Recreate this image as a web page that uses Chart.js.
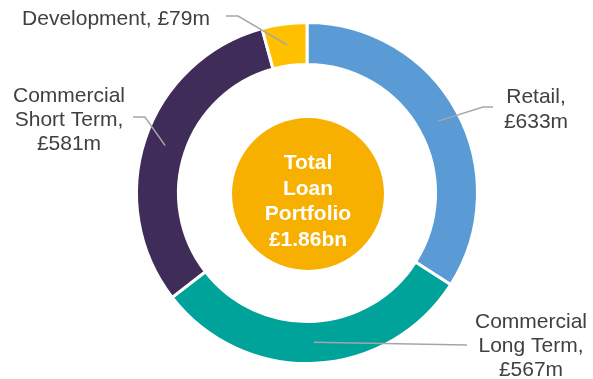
<!DOCTYPE html>
<html>
<head>
<meta charset="utf-8">
<script src="https://cdn.jsdelivr.net/npm/chart.js@4"></script>
<style>
    html, body { margin: 0; padding: 0; background: #fff; }
    #wrap { width: 593px; height: 379px; position: relative; }
</style>
</head>
<body>
<div id="wrap"><canvas id="portfolioChart"></canvas></div>
<script>
// loan book split, £m
const segments = ['Retail', 'Commercial Long Term', 'Commercial Short Term', 'Development'];
const balances = [633, 567, 581, 79];
const segmentColors = ['#5B9BD5', '#00A39A', '#402C59', '#FFC000'];

// text shown beside each slice
const sliceLabels = [
    ['Retail,', '£633m'],
    ['Commercial', 'Long Term,', '£567m'],
    ['Commercial', 'Short Term,', '£581m'],
    ['Development, £79m']
];
const centreLines = ['Total', 'Loan', 'Portfolio', '£1.86bn'];

// leader line bends and text placement, offsets from the doughnut centre
const labelLayout = [
    { path: [[176, -86], [186, -86]], textX: 229, baselines: [-90, -65] },
    { path: [[160, 152]], textX: 224, baselines: [135, 159, 183] },
    { path: [[-162, -76], [-174, -76]], textX: -238, baselines: [-91, -67, -43] },
    { path: [[-69, -177], [-81, -177]], textX: -191, baselines: [-168] }
];

const calloutPlugin = {
    id: 'callouts',
    afterDatasetsDraw(chart) {
        const ctx = chart.ctx;
        const arcs = chart.getDatasetMeta(0).data;
        if (!arcs.length) return;
        const cx = arcs[0].x;
        const cy = arcs[0].y;

        // filled disc in the hole
        ctx.save();
        ctx.beginPath();
        ctx.arc(cx + 1, cy + 1, 76, 0, Math.PI * 2);
        ctx.fillStyle = '#F8B000';
        ctx.fill();

        ctx.fillStyle = '#ffffff';
        ctx.font = 'bold 21px "Liberation Sans", Arial, sans-serif';
        ctx.textAlign = 'center';
        ctx.textBaseline = 'alphabetic';
        centreLines.forEach((line, i) => {
            ctx.fillText(line, cx + 1, cy - 24 + i * 25.5);
        });

        // leader lines from the middle of each slice
        arcs.forEach((arc, i) => {
            const p = arc.getCenterPoint();
            const lay = labelLayout[i];
            ctx.beginPath();
            ctx.moveTo(p.x, p.y);
            lay.path.forEach(pt => ctx.lineTo(cx + pt[0], cy + pt[1]));
            ctx.strokeStyle = '#A6A6A6';
            ctx.lineWidth = 1.5;
            ctx.stroke();

            ctx.fillStyle = '#404040';
            ctx.font = '21px "Liberation Sans", Arial, sans-serif';
            sliceLabels[i].forEach((line, j) => {
                ctx.fillText(line, cx + lay.textX, cy + lay.baselines[j]);
            });
        });
        ctx.restore();
    }
};

const ctx = document.getElementById('portfolioChart').getContext('2d');
new Chart(ctx, {
    type: 'doughnut',
    data: {
        labels: segments,
        datasets: [{
            data: balances,
            backgroundColor: segmentColors,
            borderColor: '#ffffff',
            borderWidth: 3
        }]
    },
    options: {
        responsive: true,
        maintainAspectRatio: false,
        animation: false,
        cutout: '75.4%',
        rotation: 0,
        layout: {
            padding: { top: 21, bottom: 14, left: 135, right: 114 }
        },
        plugins: {
            legend: { display: false },
            tooltip: { enabled: false }
        }
    },
    plugins: [calloutPlugin]
});
</script>
</body>
</html>
